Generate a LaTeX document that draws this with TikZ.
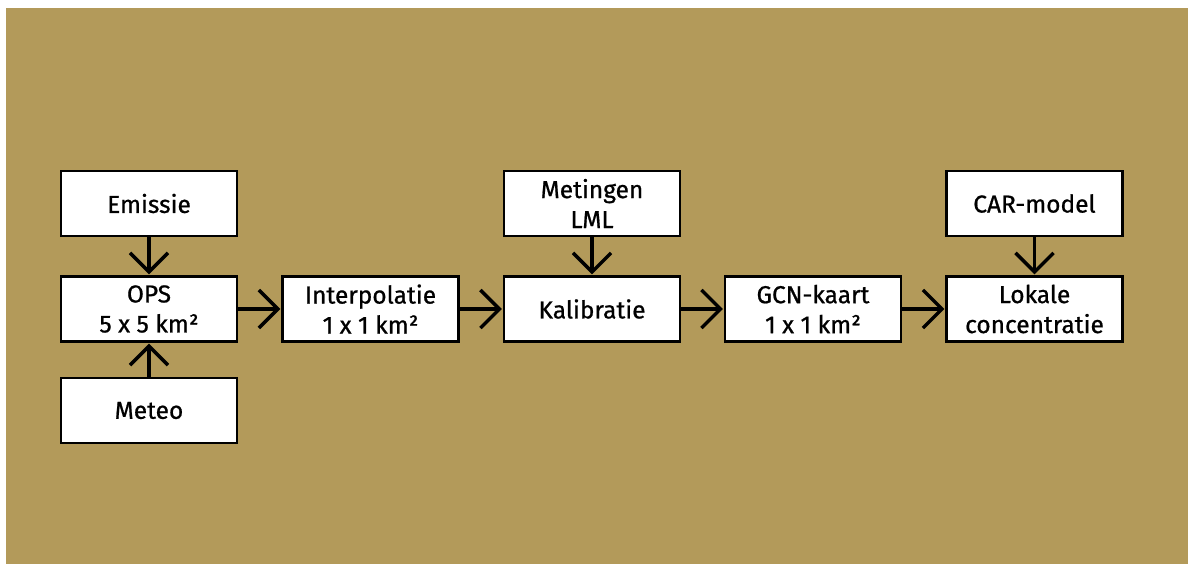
\documentclass[tikz,border=0pt]{standalone}
\usepackage{fontspec}
\setmainfont{Fira Sans}[FakeBold=0.8,UprightFont=*,BoldFont=*]
\usetikzlibrary{arrows.meta}
\definecolor{bg}{RGB}{179,154,90}
\begin{document}
\begin{tikzpicture}[x=1pt,y=-1pt,
 box/.style={draw=black, fill=white, line width=2.4pt, minimum width=176pt, minimum height=65pt, inner sep=0pt, align=center, font=\fontsize{24.5}{30}\selectfont\bfseries},
 arr/.style={line width=3.4pt, -{Straight Barb[length=19pt,width=38pt]}, shorten >=1pt}]
\useasboundingbox (0,0) rectangle (1188,564);
\fill[bg] (6,8) rectangle (1188,564);
\node[box] (emissie) at (149,203.5) {Emissie};
\node[box] (ops) at (149,309) {OPS\\5 x 5 km²};
\node[box] (meteo) at (149,410.5) {Meteo};
\node[box] (interp) at (370.5,309) {Interpolatie\\1 x 1 km²};
\node[box] (metingen) at (592,203.5) {Metingen\\LML};
\node[box] (kalib) at (592,309) {Kalibratie};
\node[box] (gcn) at (813,309) {GCN-kaart\\1 x 1 km²};
\node[box] (car) at (1034.5,203.5) {CAR-model};
\node[box] (lokale) at (1034.5,309) {Lokale\\concentratie};
\draw[arr] (emissie) -- (ops);
\draw[arr] (meteo) -- (ops);
\draw[arr] (ops) -- (interp);
\draw[arr] (interp) -- (kalib);
\draw[arr] (metingen) -- (kalib);
\draw[arr] (kalib) -- (gcn);
\draw[arr] (gcn) -- (lokale);
\draw[arr] (car) -- (lokale);
\end{tikzpicture}
\end{document}
